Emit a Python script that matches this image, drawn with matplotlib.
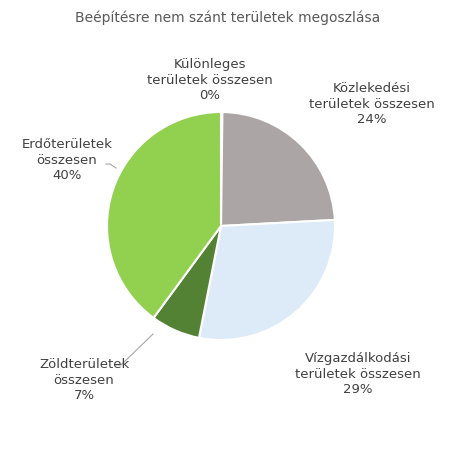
import matplotlib.pyplot as plt

categories = ["Különleges\nterületek összesen", "Közlekedési\nterületek összesen",
              "Vízgazdálkodási\nterületek összesen", "Zöldterületek\nösszesen", "Erdőterületek\nösszesen"]
values = [0.2, 24, 29, 7, 40]
pct_labels = ["0%", "24%", "29%", "7%", "40%"]
colors = ["#4472c4", "#aba6a5", "#ddeaf7", "#548235", "#92d050"]

W, H = 457, 453
fig = plt.figure(figsize=(W/100, H/100), dpi=100)
cx, cy, r = 221, 226, 114
ax = fig.add_axes([(cx-r)/W, (H-cy-r)/H, 2*r/W, 2*r/H])
ax.pie(values, colors=colors, startangle=90, counterclock=False,
       wedgeprops=dict(edgecolor="white", linewidth=1.5))
ax.set_xlim(-1, 1); ax.set_ylim(-1, 1)
ax.set_aspect("equal")

ov = fig.add_axes([0, 0, 1, 1], facecolor="none")
ov.set_xlim(0, W); ov.set_ylim(H, 0); ov.axis("off")
ov.text(228, 18, "Beépítésre nem szánt területek megoszlása", ha="center", va="center",
        fontsize=10, color="#595959")
pos = [(210, 80), (372, 104), (358, 374), (84, 380), (67, 160)]
for (x, y), c, p in zip(pos, categories, pct_labels):
    ov.text(x, y, c + "\n" + p, ha="center", va="center", fontsize=9.5,
            color="#404040", linespacing=1.25)
ov.plot([153, 121, 116], [334, 365, 365], color="#a6a6a6", lw=0.8)
ov.plot([106, 110, 116], [164, 164, 168], color="#a6a6a6", lw=0.8)
fig.savefig("out.png", dpi=100)
